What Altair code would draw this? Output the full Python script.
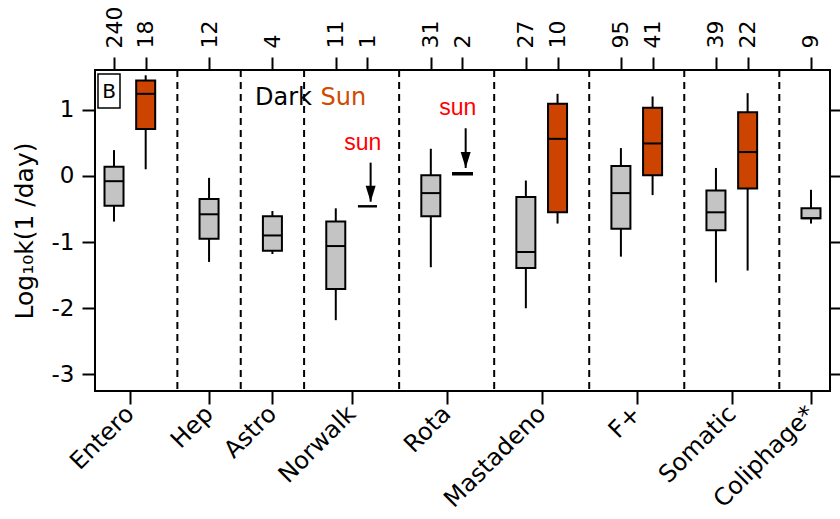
import altair as alt
import pandas as pd

# ---------------- data ----------------
groups = ["Entero", "Hep", "Astro", "Norwalk", "Rota", "Mastadeno", "F+", "Somatic", "Coliphage*"]

dark_n = [240, 12, 4, 11, 31, 27, 95, 39, 9]
dark_lo = [-0.69, -1.30, -1.18, -2.18, -1.38, -2.00, -1.22, -1.61, -0.72]
dark_q1 = [-0.45, -0.95, -1.13, -1.71, -0.61, -1.39, -0.80, -0.82, -0.64]
dark_med = [-0.08, -0.58, -0.90, -1.06, -0.26, -1.15, -0.26, -0.55, -0.64]
dark_q3 = [0.14, -0.35, -0.61, -0.69, 0.01, -0.32, 0.15, -0.22, -0.49]
dark_hi = [0.39, -0.03, -0.53, -0.49, 0.41, -0.07, 0.42, 0.12, -0.21]

sun_groups = ["Entero", "Norwalk", "Rota", "Mastadeno", "F+", "Somatic"]
sun_n = [18, 1, 2, 10, 41, 22]
sun_lo = [0.10, -0.46, 0.03, -0.72, -0.29, -1.43]
sun_q1 = [0.71, -0.46, 0.02, -0.55, 0.01, -0.19]
sun_med = [1.24, -0.46, 0.03, 0.56, 0.49, 0.36]
sun_q3 = [1.44, -0.46, 0.045, 1.09, 1.03, 0.96]
sun_hi = [1.52, -0.46, 0.03, 1.24, 1.20, 1.25]

# "sun" arrows (single sunlit measurements)
arrow_groups = ["Norwalk", "Rota"]
arrow_top = [0.20, 0.72]
arrow_tip = [-0.39, 0.12]
arrow_label_y = [0.50, 1.03]

y_ticks = [-3, -2, -1, 0, 1]

# ---------------- derived table ----------------
rows = []
slot = 0
group_slots = {}
for g in groups:
    group_slots[g] = []
    i = groups.index(g)
    rows.append(dict(group=g, cond="Dark", slot=slot, n=dark_n[i], lo=dark_lo[i], q1=dark_q1[i],
                     med=dark_med[i], q3=dark_q3[i], hi=dark_hi[i]))
    group_slots[g].append(slot)
    slot += 1
    if g in sun_groups:
        j = sun_groups.index(g)
        rows.append(dict(group=g, cond="Sun", slot=slot, n=sun_n[j], lo=sun_lo[j], q1=sun_q1[j],
                         med=sun_med[j], q3=sun_q3[j], hi=sun_hi[j]))
        group_slots[g].append(slot)
        slot += 1
    slot += 1  # empty slot between groups
box = pd.DataFrame(rows)

centers = [sum(group_slots[g]) / len(group_slots[g]) for g in groups]
seps = [(group_slots[groups[k]][-1] + group_slots[groups[k + 1]][0]) / 2 for k in range(len(groups) - 1)]
sep_df = pd.DataFrame({"x": seps})

sun_slot = {r["group"]: r["slot"] for r in rows if r["cond"] == "Sun"}
arr = pd.DataFrame({
    "x": [sun_slot[g] + 0.1 for g in arrow_groups],
    "top": arrow_top,
    "tip": arrow_tip,
    "ly": arrow_label_y,
    "lx": [sun_slot[g] - 0.15 for g in arrow_groups],
})

x_lo = box["slot"].min() - 0.6
x_hi = box["slot"].max() + 0.6
xs = alt.Scale(domain=[x_lo, x_hi], nice=False, zero=False)
ys = alt.Scale(domain=[-3.25, 1.60], nice=False, zero=False)

FONT = "DejaVu Sans"

bottom_expr = "".join(f"datum.value=={c}?'{g}':" for c, g in zip(centers, groups)) + "''"
top_expr = "".join(f"datum.value=={s}?'{n}':" for s, n in zip(box["slot"], box["n"])) + "''"

axis_common = dict(domain=False, tickColor="black", tickWidth=2, labelColor="black",
                   labelFont=FONT, grid=False, labelOverlap=False)

bottom_axis = alt.Axis(orient="bottom", values=centers, labelExpr=bottom_expr, tickSize=13,
                       labelAngle=-45, labelAlign="right", labelBaseline="middle",
                       labelFontSize=24, labelPadding=6, title=None, **axis_common)
left_axis = alt.Axis(orient="left", values=y_ticks, labelExpr="'' + datum.value", tickSize=13,
                     labelFontSize=23, labelPadding=8, title="Log₁₀k(1 /day)",
                     titleFont=FONT, titleFontSize=25, titleFontWeight="normal",
                     titleColor="black", titlePadding=14, **axis_common)
top_axis = alt.Axis(orient="top", values=list(box["slot"]), labelExpr=top_expr, tickSize=13,
                    labelAngle=-90, labelAlign="left", labelBaseline="middle",
                    labelFontSize=22, labelPadding=9, title=None, **axis_common)
right_axis = alt.Axis(orient="right", values=y_ticks, labels=False, tickSize=11,
                      title=None, **axis_common)

# separators (carry bottom axis)
seps_layer = alt.Chart(sep_df).mark_rule(color="black", strokeWidth=2, strokeDash=[7, 5]).encode(
    x=alt.X("x:Q", scale=xs, axis=bottom_axis),
    y=alt.value(0), y2=alt.value(321),
)
# invisible layer carrying the left axis
left_layer = alt.Chart(box).mark_point(opacity=0).encode(
    x=alt.X("slot:Q", scale=xs, axis=None),
    y=alt.Y("med:Q", scale=ys, axis=left_axis),
)
# invisible layer carrying top/right axes
top_layer = alt.Chart(box).mark_point(opacity=0).encode(
    x=alt.X("slot:Q", scale=xs, axis=top_axis),
    y=alt.Y("med:Q", scale=ys, axis=right_axis),
)

color = alt.Color("cond:N", scale=alt.Scale(domain=["Dark", "Sun"], range=["#c4c4c4", "#cc4400"]), legend=None)

whisk = alt.Chart(box).mark_rule(color="black", strokeWidth=2).encode(
    x=alt.X("slot:Q", scale=xs, axis=None),
    y=alt.Y("lo:Q", scale=ys, axis=None), y2="hi:Q",
)
rect = alt.Chart(box).transform_calculate(
    xa="datum.slot - 0.3", xb="datum.slot + 0.3"
).mark_rect(stroke="black", strokeWidth=2).encode(
    x=alt.X("xa:Q", scale=xs, axis=None), x2="xb:Q",
    y=alt.Y("q1:Q", scale=ys, axis=None), y2="q3:Q",
    fill=color,
)
med = alt.Chart(box).transform_calculate(
    xa="datum.slot - 0.3", xb="datum.slot + 0.3"
).mark_rule(color="black", strokeWidth=2).encode(
    x=alt.X("xa:Q", scale=xs, axis=None), x2="xb:Q",
    y=alt.Y("med:Q", scale=ys, axis=None),
)

arrow_line = alt.Chart(arr).mark_rule(color="black", strokeWidth=2).encode(
    x=alt.X("x:Q", scale=xs, axis=None),
    y=alt.Y("top:Q", scale=ys, axis=None), y2="tip:Q",
)
arrow_head = alt.Chart(arr).mark_point(
    shape="M-0.625,-1L0.625,-1L0,1Z", size=256, filled=True, color="black", opacity=1, yOffset=-8
).encode(
    x=alt.X("x:Q", scale=xs, axis=None),
    y=alt.Y("tip:Q", scale=ys, axis=None),
)
arrow_text = alt.Chart(arr).mark_text(
    text="sun", color="#ff0000", font="Liberation Sans", fontSize=23, baseline="middle", align="center"
).encode(
    x=alt.X("lx:Q", scale=xs, axis=None),
    y=alt.Y("ly:Q", scale=ys, axis=None),
)

one = pd.DataFrame({"a": [0]})
dark_txt = alt.Chart(one).mark_text(text="Dark", font=FONT, fontSize=24, color="black",
                                    align="left", baseline="middle").encode(
    x=alt.X(datum=4.45, scale=xs, axis=None), y=alt.Y(datum=1.18, scale=ys, axis=None))
sun_txt = alt.Chart(one).mark_text(text="Sun", font=FONT, fontSize=24, color="#d04a00",
                                   align="left", baseline="middle").encode(
    x=alt.X(datum=6.52, scale=xs, axis=None), y=alt.Y(datum=1.18, scale=ys, axis=None))

panel_box = alt.Chart(one).mark_rect(fill="white", stroke="black", strokeWidth=1.5).encode(
    x=alt.value(3), x2=alt.value(25), y=alt.value(4), y2=alt.value(38))
panel_txt = alt.Chart(one).mark_text(text="B", font=FONT, fontSize=20, color="black",
                                     align="center", baseline="middle").encode(
    x=alt.value(14), y=alt.value(21.5))

chart = alt.layer(
    seps_layer, left_layer, top_layer, whisk, rect, med,
    arrow_line, arrow_head, arrow_text, dark_txt, sun_txt, panel_box, panel_txt,
).resolve_axis(x="independent", y="independent").properties(
    width=735, height=321,
    autosize=alt.AutoSizeParams(type="none"),
    padding={"left": 95, "top": 70, "right": 10, "bottom": 128},
    background="white",
).configure_view(stroke="black", strokeWidth=2)

chart.save("out.html", embed_options={"renderer": "svg", "actions": False})
